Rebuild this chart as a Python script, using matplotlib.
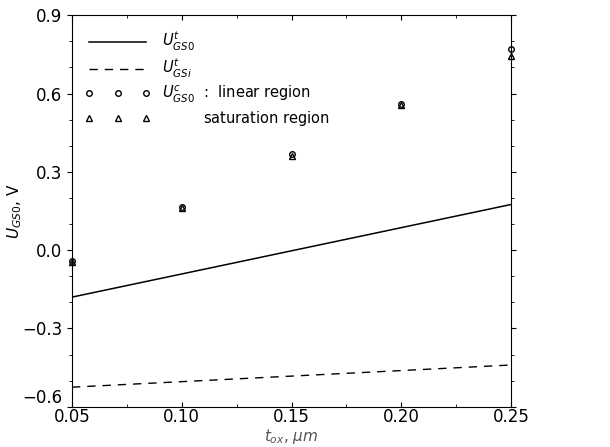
import matplotlib
matplotlib.use('Agg')
import matplotlib.pyplot as plt
from matplotlib.lines import Line2D
from matplotlib.ticker import MultipleLocator

# Datos
t_line = [0.05, 0.25]
u_gs0_t = [-0.18, 0.175]
u_gsi_t = [-0.525, -0.44]

t_pts = [0.05, 0.10, 0.15, 0.20, 0.25]
u_lin = [-0.04, 0.165, 0.37, 0.56, 0.77]
u_sat = [-0.045, 0.16, 0.36, 0.555, 0.745]

xticks = [0.05, 0.10, 0.15, 0.20, 0.25]
xlabels = ['0.05', '0.10', '0.15', '0.20', '0.25']
yticks = [-0.6, -0.3, 0.0, 0.3, 0.6, 0.9]
ylabels = ['\u22120.6', '\u22120.3', '0.0', '0.3', '0.6', '0.9']

fig = plt.figure(figsize=(6.1, 4.47), dpi=100)
ax = fig.add_axes([0.118, 0.09, 0.72, 0.876])

ax.plot(t_line, u_gs0_t, color='black', lw=1.1, linestyle='-')
ax.plot(t_line, u_gsi_t, color='black', lw=1.0, linestyle=(0, (6, 5)))
ax.plot(t_pts, u_lin, 'o', mfc='none', mec='black', ms=4, mew=1.0, clip_on=False)
ax.plot(t_pts, u_sat, '^', mfc='none', mec='black', ms=4, mew=1.0, clip_on=False)

ax.set_xlim(0.05, 0.25)
ax.set_ylim(-0.6, 0.9)
ax.set_xticks(xticks)
ax.set_xticklabels(xlabels)
ax.set_yticks(yticks)
ax.set_yticklabels(ylabels)
ax.xaxis.set_minor_locator(MultipleLocator(0.025))
ax.yaxis.set_minor_locator(MultipleLocator(0.1))
ax.tick_params(axis='both', which='both', labelsize=12, color='black')
ax.tick_params(axis='x', which='both', direction='in', top=True, pad=1)
ax.tick_params(axis='y', which='both', direction='out', right=True)
# la etiqueta -0.6 queda un poco por encima del eje, como en el original
ax.get_yticklabels()[0].set_verticalalignment('bottom')

ax.set_xlabel(r'$t_{ox}$, $\mu m$', fontsize=11, color='#555555')
ax.set_ylabel(r'$U_{GS0}$, V', fontsize=11)
ax.xaxis.set_label_coords(0.5, -0.052)
ax.yaxis.set_label_coords(-0.11, 0.5)

handles = [
    Line2D([], [], color='black', lw=1.1),
    Line2D([], [], color='black', lw=1.0, linestyle=(0, (6, 5))),
    Line2D([], [], marker='o', linestyle='none', mfc='none', mec='black', ms=4),
    Line2D([], [], marker='^', linestyle='none', mfc='none', mec='black', ms=4),
]
labels = [r'$U^{t}_{GS0}$', r'$U^{t}_{GSi}$',
          r'$U^{c}_{GS0}$  :  linear region', r'$\quad\quad\;\;$ saturation region']
ax.legend(handles, labels, loc='upper left', frameon=False, numpoints=3,
          handlelength=4.5, fontsize=10.5, labelspacing=0.25,
          bbox_to_anchor=(0.0, 0.995))

fig.savefig('out.png', dpi=100)
